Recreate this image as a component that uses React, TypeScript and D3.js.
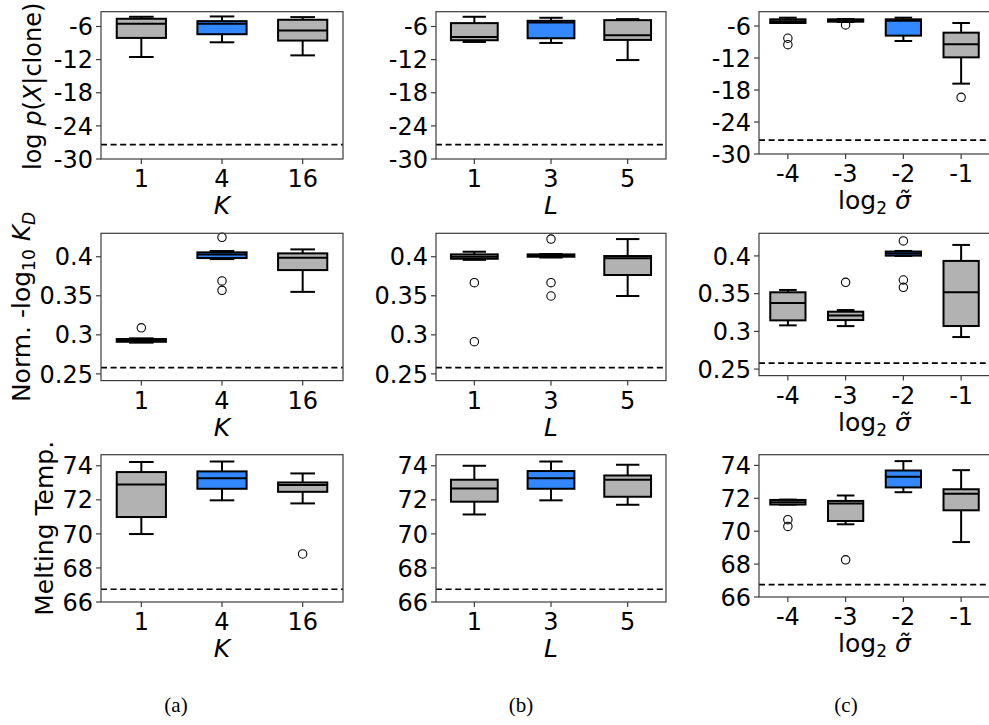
import React from "react";
import * as d3 from "d3";

const kCats = ["1", "4", "16"];
const lCats = ["1", "3", "5"];
const sCats = ["-4", "-3", "-2", "-1"];

// box stats: [low whisker, q1, median, q3, high whisker]
const logpK = [[-11.53, -8.07, -5.51, -4.6, -4.24], [-8.86, -7.4, -5.51, -5.03, -4.18], [-11.23, -8.55, -6.73, -4.78, -4.3]];
const logpKOut: number[][] = [[], [], []];
const logpL = [[-8.8, -8.49, -7.88, -5.39, -4.24], [-8.98, -8.13, -5.27, -4.97, -4.42], [-12.08, -8.43, -7.58, -4.85, -4.66]];
const logpLOut: number[][] = [[], [], []];
const logpS = [[-5.44, -5.44, -5.13, -4.75, -4.44], [-5.25, -5.19, -5.0, -4.75, -4.69], [-8.81, -7.81, -5.0, -4.75, -4.44], [-16.81, -11.88, -9.44, -7.25, -5.44]];
const logpSOut: number[][] = [[-8.3, -9.5], [-5.8], [], [-19.38]];

const kdK = [[0.290, 0.2911, 0.2929, 0.2946, 0.2955], [0.397, 0.3983, 0.403, 0.4056, 0.4073], [0.355, 0.3829, 0.3987, 0.4043, 0.4094]];
const kdKOut: number[][] = [[0.309], [0.4249, 0.369, 0.357], []];
const kdL = [[0.396, 0.3974, 0.4, 0.403, 0.4064], [0.399, 0.4, 0.4017, 0.403, 0.4034], [0.3497, 0.3766, 0.3979, 0.4009, 0.4226]];
const kdLOut: number[][] = [[0.3668, 0.2913], [0.4226, 0.3668, 0.3497], []];
const kdS = [[0.308, 0.3146, 0.3376, 0.3518, 0.3549], [0.307, 0.315, 0.3212, 0.3261, 0.3283], [0.4, 0.4004, 0.4031, 0.4058, 0.4066], [0.2925, 0.3071, 0.3518, 0.3934, 0.4146]];
const kdSOut: number[][] = [[], [0.365], [0.4199, 0.3681, 0.3584], []];

const tmK = [[69.99, 70.99, 72.9, 73.63, 74.22], [71.97, 72.65, 73.26, 73.67, 74.25], [71.79, 72.47, 72.87, 73.02, 73.55]];
const tmKOut: number[][] = [[], [], [68.82]];
const tmL = [[71.14, 71.89, 72.67, 73.18, 74.0], [71.97, 72.65, 73.26, 73.69, 74.25], [71.71, 72.18, 73.18, 73.43, 74.06]];
const tmLOut: number[][] = [[], [], []];
const tmS = [[71.62, 71.62, 71.76, 71.9, 71.92], [70.42, 70.62, 71.68, 71.84, 72.17], [72.37, 72.66, 73.31, 73.69, 74.26], [69.34, 71.27, 72.27, 72.55, 73.71]];
const tmSOut: number[][] = [[70.7, 70.29], [68.26], [], []];

const baselines = [-27.4, 0.258, 66.75];
const yDomains: [number, number][] = [[-30, -3.32], [0.2414, 0.43], [66, 74.65]];
const yTicks = [[-30, -24, -18, -12, -6], [0.25, 0.3, 0.35, 0.4], [66, 68, 70, 72, 74]];
const yTickLabels = [["-30", "-24", "-18", "-12", "-6"], ["0.25", "0.3", "0.35", "0.4"], ["66", "68", "70", "72", "74"]];

const GRAY = "#b2b2b2";
const BLUE = "#3388ff";
const SPINE = "#3c3c3c";
const FONT = "DejaVu Sans";
const TICK_FS = 24;
const LABEL_FS = 25;
const SUB_FS = 17;

type PanelProps = {
  x0: number; y0: number; w: number; h: number;
  cats: string[]; stats: number[][]; outs: number[][];
  row: number; hi: number; xlabel: React.ReactNode;
};

function Panel({ x0, y0, w, h, cats, stats, outs, row, hi, xlabel }: PanelProps) {
  const x = d3.scaleBand<string>().domain(cats).range([x0, x0 + w]).padding(0);
  const y = d3.scaleLinear().domain(yDomains[row]).range([y0 + h, y0]);
  const bw = x.bandwidth();
  const boxW = bw * 0.61;
  const bottom = y0 + h;
  return (
    <g>
      <line x1={x0} x2={x0 + w} y1={y(baselines[row])} y2={y(baselines[row])} stroke="#000" strokeWidth={1.6} strokeDasharray="6,3.6" />
      {cats.map((c, i) => {
        const cx = (x(c) as number) + bw / 2;
        const [lo, q1, med, q3, hiW] = stats[i];
        return (
          <g key={c}>
            <line x1={cx} x2={cx} y1={y(lo)} y2={y(q1)} stroke="#000" strokeWidth={2} />
            <line x1={cx} x2={cx} y1={y(q3)} y2={y(hiW)} stroke="#000" strokeWidth={2} />
            <line x1={cx - boxW / 4} x2={cx + boxW / 4} y1={y(lo)} y2={y(lo)} stroke="#000" strokeWidth={2} />
            <line x1={cx - boxW / 4} x2={cx + boxW / 4} y1={y(hiW)} y2={y(hiW)} stroke="#000" strokeWidth={2} />
            <rect x={cx - boxW / 2} width={boxW} y={y(q3)} height={Math.max(0.5, y(q1) - y(q3))} fill={i === hi ? BLUE : GRAY} stroke="#000" strokeWidth={2} />
            <line x1={cx - boxW / 2} x2={cx + boxW / 2} y1={y(med)} y2={y(med)} stroke="#000" strokeWidth={2} />
            {outs[i].map((o, j) => (
              <circle key={j} cx={cx} cy={y(o)} r={4.2} fill="none" stroke="#000" strokeWidth={1.1} />
            ))}
          </g>
        );
      })}
      <rect x={x0} y={y0} width={w} height={h} fill="none" stroke={SPINE} strokeWidth={1.2} />
      {yTicks[row].map((t, i) => (
        <g key={t}>
          <line x1={x0 - 5} x2={x0} y1={y(t)} y2={y(t)} stroke={SPINE} strokeWidth={1.2} />
          <text x={x0 - 8} y={y(t)} dy="0.36em" textAnchor="end" fontSize={TICK_FS} fontFamily={FONT}>{yTickLabels[row][i]}</text>
        </g>
      ))}
      {cats.map((c) => {
        const cx = (x(c) as number) + bw / 2;
        return (
          <g key={c}>
            <line x1={cx} x2={cx} y1={bottom} y2={bottom + 5} stroke={SPINE} strokeWidth={1.2} />
            <text x={cx} y={bottom + 28} textAnchor="middle" fontSize={TICK_FS} fontFamily={FONT}>{c}</text>
          </g>
        );
      })}
      <text x={x0 + w / 2} y={bottom + 55} textAnchor="middle" fontSize={LABEL_FS} fontFamily={FONT}>{xlabel}</text>
    </g>
  );
}

const colX = [101, 436, 759];
const colW = [242, 230, 231];
const rowY = [11.7, 233.3, 454.7];
const rowHab = 147.3;
const rowHc = 142.3;

export default function App() {
  const kLabel = <tspan fontStyle="italic">K</tspan>;
  const lLabel = <tspan fontStyle="italic">L</tspan>;
  const sLabel = (
    <>
      <tspan>log</tspan>
      <tspan fontSize={SUB_FS} dy={5}>2</tspan>
      <tspan dy={-5}> </tspan>
      <tspan fontStyle="italic">{"σ\u0303"}</tspan>
    </>
  );
  const data = [
    [[logpK, logpKOut], [logpL, logpLOut], [logpS, logpSOut]],
    [[kdK, kdKOut], [kdL, kdLOut], [kdS, kdSOut]],
    [[tmK, tmKOut], [tmL, tmLOut], [tmS, tmSOut]],
  ];
  const cats = [kCats, lCats, sCats];
  const labels = [kLabel, lLabel, sLabel];
  const his = [1, 1, 2];
  const centers = rowY.map((t) => t + rowHab / 2);
  return (
    <svg width={989} height={725} style={{ position: "absolute", left: 0, top: 0, background: "#fff" }}>
      <rect width={989} height={725} fill="#fff" />
      {[0, 1, 2].map((r) =>
        [0, 1, 2].map((c) => (
          <Panel
            key={`${r}-${c}`}
            x0={colX[c]} y0={rowY[r]} w={colW[c]} h={c === 2 ? rowHc : rowHab}
            cats={cats[c]} stats={data[r][c][0] as number[][]} outs={data[r][c][1] as number[][]}
            row={r} hi={his[c]} xlabel={labels[c]}
          />
        ))
      )}
      <text transform={`translate(41,${centers[0] + 1}) rotate(-90)`} textAnchor="middle" fontSize={24} fontFamily={FONT}>
        <tspan>log</tspan><tspan fontStyle="italic"> p</tspan><tspan>(</tspan><tspan fontStyle="italic">X</tspan><tspan>|clone)</tspan>
      </text>
      <text transform={`translate(30,${centers[1]}) rotate(-90)`} textAnchor="middle" fontSize={LABEL_FS} fontFamily={FONT}>
        <tspan>Norm. -log</tspan><tspan fontSize={SUB_FS} dy={5}>10</tspan><tspan dy={-5}> </tspan><tspan fontStyle="italic">K</tspan><tspan fontStyle="italic" fontSize={SUB_FS} dy={5}>D</tspan>
      </text>
      <text transform={`translate(53,${centers[2]}) rotate(-90)`} textAnchor="middle" fontSize={LABEL_FS} fontFamily={FONT}>Melting Temp.</text>
      <text x={176} y={712} textAnchor="middle" fontSize={21} fontFamily="Liberation Serif">(a)</text>
      <text x={521} y={712} textAnchor="middle" fontSize={21} fontFamily="Liberation Serif">(b)</text>
      <text x={846} y={712} textAnchor="middle" fontSize={21} fontFamily="Liberation Serif">(c)</text>
    </svg>
  );
}
